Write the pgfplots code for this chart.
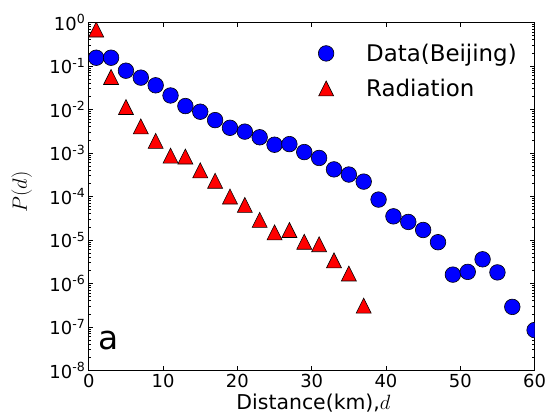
\documentclass[border=0pt]{standalone}
\usepackage{pgfplots}
\pgfplotsset{compat=1.18}
\usepackage{fontspec}
\setmainfont{DejaVu Sans}
\pgfdeclareplotmark{mtri}{%
 \pgfpathmoveto{\pgfqpoint{0pt}{\pgfplotmarksize}}%
 \pgfpathlineto{\pgfqpoint{-\pgfplotmarksize}{-\pgfplotmarksize}}%
 \pgfpathlineto{\pgfqpoint{\pgfplotmarksize}{-\pgfplotmarksize}}%
 \pgfpathclose\pgfusepathqfillstroke}
\pgfplotstableread{
x y
1 0.155
3 0.155
5 0.078
7 0.054
9 0.036
11 0.021
13 0.012
15 0.0089
17 0.0057
19 0.0038
21 0.0031
23 0.0023
25 0.00155
27 0.0016
29 0.00105
31 0.00077
33 0.00042
35 0.00032
37 0.00022
39 8.5e-5
41 3.5e-5
43 2.6e-5
45 1.7e-5
47 8.9e-6
49 1.6e-6
51 1.85e-6
53 3.6e-6
55 1.8e-6
57 2.9e-7
60 8.5e-8
}\datatab
\pgfplotstableread{
x y
1 0.69
3 0.056
5 0.0114
7 0.0041
9 0.0019
11 0.00087
13 0.00083
15 0.0004
17 0.00023
19 1e-4
21 6.4e-5
23 2.9e-5
25 1.5e-5
27 1.7e-5
29 9.1e-6
31 8e-6
33 3.4e-6
35 1.7e-6
37 3.1e-7
}\radtab
\begin{document}
\begin{tikzpicture}
\path[use as bounding box] (0,0) rectangle (550bp,416bp);
\begin{axis}[
 at={(88.8bp,45.5bp)}, anchor=south west,
 scale only axis, width=445.8bp, height=348bp,
 xmin=0, xmax=60, ymode=log, ymin=1e-8, ymax=1,
 xtick={0,10,20,30,40,50,60},
 ytick={1e-8,1e-7,1e-6,1e-5,1e-4,1e-3,1e-2,1e-1,1},
 yticklabels={10\textsuperscript{-8},10\textsuperscript{-7},10\textsuperscript{-6},10\textsuperscript{-5},10\textsuperscript{-4},10\textsuperscript{-3},10\textsuperscript{-2},10\textsuperscript{-1},10\textsuperscript{0}},
 tick align=inside, major tick length=4.5bp, minor tick length=2.5bp,
 tick style={black, line width=0.8bp},
 axis line style={line width=1bp},
 clip marker paths=true,
 /pgf/number format/assume math mode=true,
 ticklabel style={font=\fontsize{18}{18}\selectfont},
 xlabel={Distance(km),$d$},
 xlabel style={at={(rel axis cs:0.504,0)}, anchor=base, yshift=-38.5bp, font=\fontsize{20.5}{20.5}\selectfont},
 ylabel={$P(d)$},
 ylabel style={at={(rel axis cs:-0.1503,0.513)}, anchor=center, font=\fontsize{20}{20}\selectfont},
 legend style={draw=none, fill=none, font=\fontsize{23}{23}\selectfont, at={(0.514,0.962)}, anchor=north west, inner sep=0pt, row sep=0pt, nodes={inner sep=0pt}},
 legend cell align=left,
 legend image code/.code={\path[draw=none,fill=none] (-8bp,-17.5bp) rectangle (40bp,17.5bp); \draw[#1] plot coordinates {(0bp,0bp)};},
]
\addplot[only marks, mark=*, mark size=7.8bp, mark options={fill=blue, draw=black, line width=0.6bp}] table[x=x,y=y] {\datatab};
\addlegendentry{Data(Beijing)}
\addplot[only marks, mark=mtri, mark size=7.5bp, mark options={fill=red, draw=black, line width=0.6bp}] table[x=x,y=y] {\radtab};
\addlegendentry{Radiation}
\node[anchor=base west, font=\fontsize{33}{33}\selectfont, inner sep=0pt] at (rel axis cs:0.021,0.059) {a};
\end{axis}
\end{tikzpicture}
\end{document}
